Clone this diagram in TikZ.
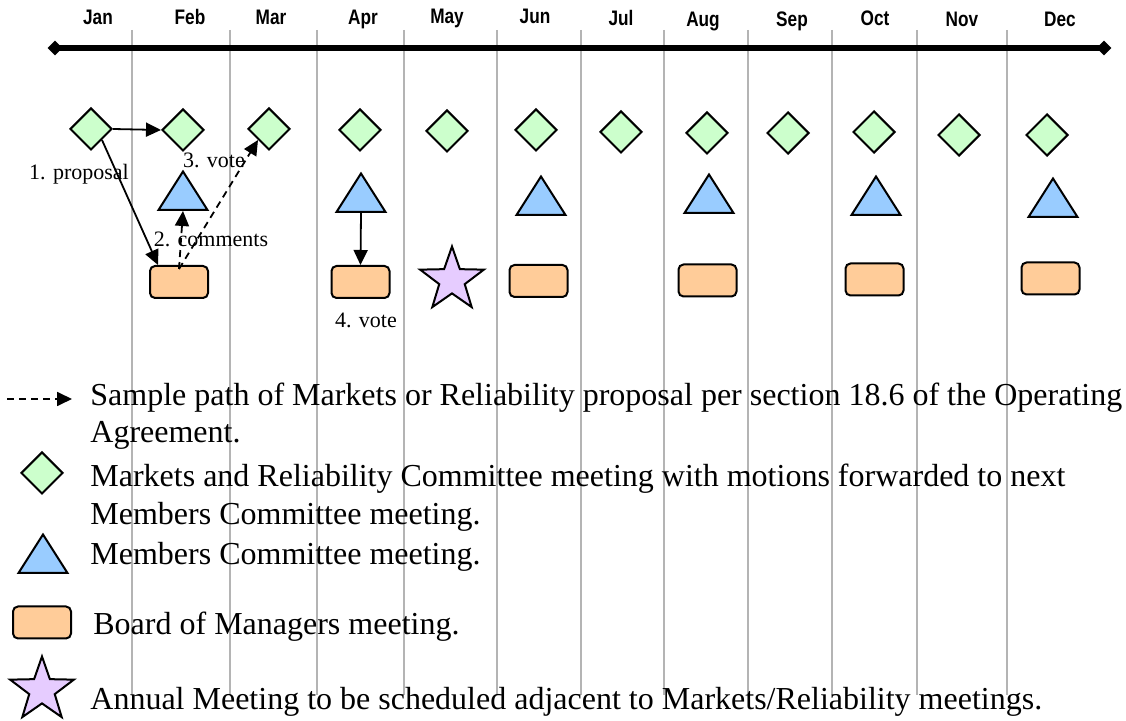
\documentclass[tikz,border=0pt]{standalone}
\usepackage{fontspec}
\setmainfont{Liberation Serif}
\newfontfamily\monthfont[FakeStretch=0.82]{Liberation Sans}
\usetikzlibrary{shapes.geometric,arrows.meta,calc}
\definecolor{mrcfill}{HTML}{CCFFCC}
\definecolor{mcfill}{HTML}{99CCFF}
\definecolor{bomfill}{HTML}{FFCC99}
\definecolor{annfill}{HTML}{E6CCFF}
\definecolor{gridgray}{HTML}{B4B4B4}
\tikzset{
  mrcshape/.style={diamond, draw=black, fill=mrcfill, line width=1pt, minimum width=21pt, minimum height=21pt, inner sep=0pt},
  mcshape/.style={isosceles triangle, isosceles triangle stretches, shape border rotate=90, draw=black, fill=mcfill, line width=1pt, minimum width=24.5pt, minimum height=19.25pt, inner sep=0pt, anchor=lower side},
  bomshape/.style={rectangle, rounded corners=2.5pt, draw=black, fill=bomfill, line width=1pt, minimum width=29pt, minimum height=16pt, inner sep=0pt},
  annshape/.style={star, star points=5, star point ratio=2.5, draw=black, fill=annfill, line width=1pt, minimum size=33.5pt, inner sep=0pt},
  endmark/.style={diamond, fill=black, minimum width=7.5pt, minimum height=7.5pt, inner sep=0pt},
  gridline/.style={draw=gridgray, line width=0.8pt},
  conn/.style={line width=0.9pt, -{Triangle[length=7.5pt,width=7pt]}},
  dashconn/.style={conn, dash pattern=on 3.5pt off 2.5pt},
  monthlbl/.style={font=\monthfont\bfseries\fontsize{10.5}{12}\selectfont, anchor=base, inner sep=0pt},
  steplbl/.style={font=\fontsize{11}{13}\selectfont, anchor=base, inner sep=0pt},
  legtext/.style={font=\fontsize{16}{19}\selectfont, anchor=base west, inner sep=0pt}
}
\begin{document}
\begin{tikzpicture}[x=0.5pt, y=-0.5pt]
\useasboundingbox (0,0) rectangle (1126,721);
% month separators
\foreach \gx in {132,230,317,404,497,581,664,748,832,917,1007}
  \draw[gridline] (\gx,30) -- (\gx,695);
% timeline
\node[endmark] (tl) at (55,48) {};
\node[endmark] (tr) at (1104,48) {};
\draw[line width=2.8pt] (tl.center) -- (tr.center);
% months
\node[monthlbl] (mJan) at (98,25) {Jan};
\node[monthlbl] (mFeb) at (190,25) {Feb};
\node[monthlbl] (mMar) at (271,25) {Mar};
\node[monthlbl] (mApr) at (363,25) {Apr};
\node[monthlbl] (mMay) at (447,24) {May};
\node[monthlbl] (mJun) at (535,24) {Jun};
\node[monthlbl] (mJul) at (621,26) {Jul};
\node[monthlbl] (mAug) at (703,27) {Aug};
\node[monthlbl] (mSep) at (792,27) {Sep};
\node[monthlbl] (mOct) at (875,26) {Oct};
\node[monthlbl] (mNov) at (962,27) {Nov};
\node[monthlbl] (mDec) at (1060,27) {Dec};
% MRC diamonds
\node[mrcshape] (dJan) at (91,129) {};
\node[mrcshape] (dFeb) at (183,130) {};
\node[mrcshape] (dMar) at (269,129) {};
\node[mrcshape] (dApr) at (360,130) {};
\node[mrcshape] (dMay) at (447,131) {};
\node[mrcshape] (dJun) at (536,130) {};
\node[mrcshape] (dJul) at (621,132) {};
\node[mrcshape] (dAug) at (707,133) {};
\node[mrcshape] (dSep) at (788,133) {};
\node[mrcshape] (dOct) at (874,132) {};
\node[mrcshape] (dNov) at (959,135) {};
\node[mrcshape] (dDec) at (1047,135) {};
% MC triangles
\node[mcshape] (tFeb) at (183,211) {};
\node[mcshape] (tApr) at (361,213) {};
\node[mcshape] (tJun) at (541,216) {};
\node[mcshape] (tAug) at (709,214) {};
\node[mcshape] (tOct) at (876,216) {};
\node[mcshape] (tDec) at (1053,218) {};
% Board rectangles
\node[bomshape] (bFeb) at (179,282) {};
\node[bomshape] (bApr) at (360.5,282) {};
\node[bomshape] (bJun) at (538.5,281) {};
\node[bomshape] (bAug) at (707.5,280.5) {};
\node[bomshape] (bOct) at (874.5,279.5) {};
\node[bomshape] (bDec) at (1050.5,278.5) {};
% Annual meeting star
\node[annshape] (sMay) at (452,280) {};
% sample path
\draw[conn] (dJan.east) -- (dFeb.west);
\draw[conn] (dJan.south east) -- ([xshift=4.5pt]bFeb.north west);
\draw[dashconn] ([yshift=-2pt]bFeb.north) -- (tFeb.lower side);
\draw[dashconn] ([yshift=-2pt]bFeb.north) -- (dMar.south west);
\draw[conn] (tApr.lower side) -- (bApr.north);
\node[steplbl] (l1) at (79,180) {1. proposal};
\node[steplbl] (l3) at (214,168) {3. vote};
\node[steplbl] (l2) at (211,247) {2. comments};
\node[steplbl] (l4) at (366,328) {4. vote};
% legend
\coordinate (legA) at (7,399);
\coordinate (legB) at (72,399);
\draw[dashconn] (legA) -- (legB);
\node[mrcshape] (legD) at (42,473) {};
\node[mcshape] (legT) at (43,574) {};
\node[bomshape] (legR) at (42,622.5) {};
\node[annshape] (legS) at (42,690) {};
\node[legtext] (x1a) at (90,406) {Sample path of Markets or Reliability proposal per section 18.6 of the Operating};
\node[legtext] (x1b) at (90,443) {Agreement.};
\node[legtext] (x2a) at (90,487) {Markets and Reliability Committee meeting with motions forwarded to next};
\node[legtext] (x2b) at (90,525) {Members Committee meeting.};
\node[legtext] (x3) at (90,565) {Members Committee meeting.};
\node[legtext] (x4) at (93,635) {Board of Managers meeting.};
\node[legtext] (x5) at (90,710) {Annual Meeting to be scheduled adjacent to Markets/Reliability meetings.};
\end{tikzpicture}
\end{document}
